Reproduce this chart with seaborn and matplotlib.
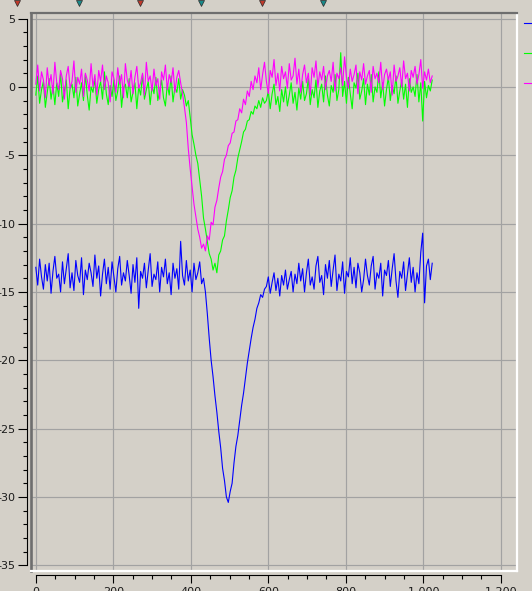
import numpy as np
import pandas as pd
import matplotlib
matplotlib.use("Agg")
import matplotlib.pyplot as plt
import seaborn as sns
from matplotlib.lines import Line2D
from matplotlib.ticker import MultipleLocator, FuncFormatter

# ---------------- data ----------------
last_sample = 1023

magenta_pre = [
    0.2, 1.6, -0.3, 1.1, 0.5, -0.8, 1.4, 0.1, 0.9, -0.5, 1.8, 0.3, -0.2, 1.2, 0.6, -0.9, 0.8, 1.5, -0.1, 0.4,
    1.9, -0.4, 0.7, 0.2, 1.3, -0.7, 1.0, 0.5, -0.3, 1.7, 0.0, 0.9, -0.6, 1.2, 0.4, 1.6, -0.2, 0.8, 0.3, -1.1,
    1.1, 0.6, -0.4, 1.4, 0.2, 0.9, -0.8, 1.7, 0.5, 0.0, 1.2, -0.5, 0.7, 1.5, -0.1, 0.3, 1.0, -0.6, 1.8, 0.4,
    0.8, -0.3, 1.3, 0.1, 0.6, -0.9, 1.1, 0.5, 1.6, -0.2, 0.9, 0.3, 1.4, -0.4, 0.7, 1.2,
]
magenta_event = [
    0.3, -0.5, -1.5, -2.6, -4.5, -6.0, -7.3, -8.6, -9.5, -10.4, -11.0, -11.8, -11.5, -12.0, -10.9, -11.2,
    -9.9, -10.1, -8.8, -8.3, -7.4, -6.6, -6.2, -5.3, -5.0, -4.3, -4.1, -3.4, -3.3, -2.5, -2.4, -1.6, -1.9,
    -0.9, -1.3, -0.3, -0.7, 0.4, -0.2, 0.8,
]
magenta_post = [
    0.3, 1.4, -0.2, 0.9, 1.8, 0.4, -0.5, 1.2, 0.7, 2.0, 0.1, 1.0, -0.3, 1.5, 0.6, 1.1, -0.1, 1.7, 0.5, 0.8,
    2.1, 0.2, 1.3, -0.4, 0.9, 1.6, 0.3, 1.0, -0.6, 1.4, 0.7, 1.9, 0.0, 1.1, 0.5, 1.5, -0.2, 0.8, 1.2, 0.4,
    1.8, -0.3, 1.0, 0.6, 1.4, 0.1, 2.2, 0.7, -0.1, 1.3, 0.4, 0.9, 1.6, -0.5, 1.1, 0.5, 1.7, 0.2, 0.8, 1.2,
    -0.4, 1.5, 0.6, 1.0, 0.3, 1.8, -0.2, 0.9, 1.3, 0.5, 1.1, -0.6, 1.6, 0.4, 0.8, 1.4, 0.0, 1.9, 0.6, 1.0,
    -0.3, 1.2, 0.7, 1.5, 0.2, 0.9, 2.0, -0.1, 1.1, 0.5, 1.3, 0.3, 0.8,
]

green_pre = [
    -0.6, 0.8, -1.2, -0.2, 0.4, -1.5, -0.4, 0.6, -0.9, 0.1, -1.3, 0.3, -0.7, 1.0, -1.1, -0.3, 0.5, -1.6, -0.1, 0.2,
    -0.8, 0.7, -1.4, -0.5, 0.3, -1.0, 0.9, -0.6, -1.7, 0.0, -0.4, 0.6, -1.2, -0.2, 0.4, -0.9, 1.1, -0.5, -1.3, 0.1,
    -0.7, 0.5, -1.0, -0.3, 0.8, -1.5, -0.1, 0.2, -0.8, 0.6, -1.1, -0.4, 0.3, -1.6, 0.0, -0.6, 0.9, -0.9, -0.2, 0.4,
    -1.3, 0.1, -0.5, 0.7, -1.0, -0.3, 0.5, -0.8, -1.4, 0.2, -0.6, 0.8, -1.1, 0.0, -0.4, 0.6, -0.9, -0.2,
]
green_event = [
    -0.6, -1.4, -1.0, -2.2, -3.5, -4.2, -5.0, -5.6, -6.8, -8.0, -9.6, -10.4, -11.3, -12.2, -12.6, -13.4,
    -12.9, -13.6, -12.3, -12.0, -11.2, -10.9, -9.8, -9.0, -8.1, -7.6, -6.6, -6.1, -5.2, -4.6, -4.0, -3.3,
    -3.1, -2.5, -2.4, -1.8, -2.0, -1.4, -1.6, -1.0, -1.5, -0.8, -1.2,
]
green_post = [
    -1.0, -0.3, -1.6, -0.5, 0.2, -1.3, -0.7, -1.8, -0.2, -1.1, 0.0, -1.4, -0.6, 0.3, -1.2, -0.4, -1.7, -0.1, -0.9, 0.4,
    -1.0, -0.5, 0.6, -1.3, -0.2, -0.8, 0.5, -1.5, -0.3, 0.2, -1.1, 0.8, -0.6, -1.4, 0.1, -0.4, 0.9, -1.0, -0.2, 2.5,
    -0.7, 0.4, -1.2, 0.7, -0.5, -1.6, 0.3, -0.1, 1.0, -0.9, -0.3, 0.6, -1.3, 0.2, -0.6, 0.9, -1.1, 0.0, -0.4, 1.1,
    -0.8, 0.3, -1.4, -0.2, 0.7, -1.0, 0.1, -0.5, 0.8, -1.2, -0.3, 0.5, -0.9, 0.2, -1.5, 0.6, -0.4, 0.0, -0.7, 0.9,
    -1.1, 0.3, -2.5, 0.4, -0.8, 0.1, -0.3, 0.5,
]

blue_pre = [
    -13.2, -14.5, -12.6, -13.9, -14.8, -13.0, -14.2, -12.9, -15.1, -13.5, -12.4, -14.0, -13.7, -15.0, -12.8, -14.4, -13.3, -12.2, -14.7, -13.6,
    -14.9, -12.7, -13.8, -14.3, -12.5, -15.2, -13.4, -14.1, -12.9, -13.6, -14.6, -12.3, -14.0, -13.1, -15.3, -13.7, -12.6, -14.4, -13.2, -14.8,
    -12.8, -13.9, -15.0, -13.3, -12.4, -14.5, -13.6, -14.2, -12.7, -13.8, -15.1, -13.0, -14.3, -12.5, -16.2, -13.5, -14.0, -12.9, -14.7, -13.4,
    -12.2, -14.6, -13.7, -14.1, -12.8, -15.0, -13.2, -13.9, -12.6, -14.4, -13.6, -15.2, -12.9, -14.0, -13.3, -14.8, -11.3, -13.8, -14.5, -12.7,
    -14.2, -13.4, -15.0, -12.9, -14.1, -13.6, -12.8, -14.4,
]
blue_event = [
    -14.0, -15.0, -16.6, -18.4, -20.0, -21.2, -22.6, -23.8, -25.2, -26.4, -27.9, -28.8, -30.0, -30.4, -29.6,
    -29.0, -27.5, -26.3, -25.5, -24.4, -23.3, -22.4, -21.3, -20.2, -19.3, -18.4, -17.6, -17.0, -16.2, -15.8,
    -15.2, -15.4, -14.8,
]
blue_post = [
    -14.6, -13.9, -15.1, -14.3, -13.6, -14.9, -14.0, -15.3, -13.8, -14.5, -13.4, -14.8, -14.1, -13.5, -15.0,
    -13.7, -14.4, -12.9, -14.2, -13.3, -15.0, -13.6, -12.6, -14.5, -13.9, -14.8, -13.1, -12.4, -14.3, -13.8, -15.2, -13.0, -14.0, -12.7, -14.6,
    -13.4, -12.3, -14.9, -13.7, -14.2, -12.8, -15.1, -13.5, -13.9, -12.5, -14.4, -13.2, -14.7, -12.9, -13.6, -15.0, -14.1, -12.6, -13.8, -14.5,
    -13.1, -12.4, -14.8, -13.6, -14.0, -12.9, -15.3, -13.4, -13.8, -12.7, -14.6, -13.3, -12.2, -14.2, -15.4, -13.5, -14.0, -12.8, -14.9, -13.7,
    -12.5, -14.3, -13.2, -15.0, -13.6, -14.4, -12.1, -10.7, -15.8, -13.1, -12.6, -14.1, -12.9,
]

magenta = magenta_pre + magenta_event + magenta_post
green = green_pre + green_event + green_post
blue = blue_pre + blue_event + blue_post
assert len(magenta) == len(green) == len(blue)

series_names = ["Trace 1", "Trace 2", "Trace 3"]
series_colors = ["#0000ff", "#00ff00", "#ff00ff"]
x_major_ticks = [0, 200, 400, 600, 800, 1000, 1200]
y_major_ticks = [5, 0, -5, -10, -15, -20, -25, -30, -35]

sample_x = np.linspace(0, last_sample, len(blue))
df = pd.concat(
    [pd.DataFrame({"x": sample_x, "value": vals, "series": name})
     for name, vals in zip(series_names, [blue, green, magenta])],
    ignore_index=True,
)

# ---------------- figure ----------------
plt.rcParams["axes.unicode_minus"] = False
plt.rcParams["font.family"] = ["DejaVu Sans"]
BG = "#d4d0c8"
W, H = 532, 591
fig = plt.figure(figsize=(W / 100, H / 100), dpi=100, facecolor=BG)

ax_left, ax_right, ax_top, ax_bottom = 31, 517, 13.2, 570.5
rect = [ax_left / W, 1 - ax_bottom / H, (ax_right - ax_left) / W, (ax_bottom - ax_top) / H]
ax = fig.add_axes(rect)
ax.set_facecolor(BG)

sns.lineplot(data=df, x="x", y="value", hue="series", hue_order=series_names,
             palette=dict(zip(series_names, series_colors)), estimator=None,
             sort=False, legend=False, linewidth=0.8, ax=ax)

xlim = (-12.4, 1241.8)
ylim = (-35.38, 5.39)
ax.set_xlim(*xlim)
ax.set_ylim(*ylim)
ax.set_xlabel("")
ax.set_ylabel("")
ax.set_xticks(x_major_ticks)
ax.set_yticks(y_major_ticks)
ax.tick_params(length=0, labelbottom=False, labelleft=False)
ax.grid(True, color="#a2a2a2", linewidth=0.85)
ax.set_axisbelow(True)
ax.spines["left"].set_color("#6e6e6e")
ax.spines["left"].set_linewidth(1.9)
ax.spines["top"].set_color("#6e6e6e")
ax.spines["top"].set_linewidth(1.6)
ax.spines["right"].set_color("white")
ax.spines["right"].set_linewidth(1.6)
ax.spines["bottom"].set_color("white")
ax.spines["bottom"].set_linewidth(1.6)

# y ruler (separate, left of the sunken panel)
yr = fig.add_axes([27.3 / W, rect[1], 1e-4, rect[3]])
yr.set_ylim(*ylim)
yr.patch.set_visible(False)
yr.set_xticks([])
for s in ["top", "right", "bottom"]:
    yr.spines[s].set_visible(False)
yr.spines["left"].set_color("black")
yr.spines["left"].set_linewidth(0.8)
yr.spines["left"].set_bounds(-35, 5)
yr.yaxis.set_major_locator(MultipleLocator(5))
yr.yaxis.set_minor_locator(MultipleLocator(1))
yr.tick_params(axis="y", which="major", length=6.5, width=0.8, color="black",
               pad=2, labelsize=8, labelcolor="#1a1a1a")
yr.tick_params(axis="y", which="minor", length=3.2, width=0.8, color="black")

# x ruler (separate, below the panel)
xr = fig.add_axes([rect[0], 1 - 575.4 / H, rect[2], 1e-4])
xr.set_xlim(*xlim)
xr.patch.set_visible(False)
xr.set_yticks([])
for s in ["top", "right", "left"]:
    xr.spines[s].set_visible(False)
xr.spines["bottom"].set_color("black")
xr.spines["bottom"].set_linewidth(0.8)
xr.spines["bottom"].set_bounds(0, 1200)
xr.xaxis.set_major_locator(MultipleLocator(200))
xr.xaxis.set_minor_locator(MultipleLocator(50))
xr.xaxis.set_major_formatter(FuncFormatter(lambda v, p: f"{v:,.0f}".replace(",", " ")))
xr.tick_params(axis="x", which="major", length=5.6, width=0.8, color="black",
               pad=2.5, labelsize=8, labelcolor="#1a1a1a")
xr.tick_params(axis="x", which="minor", length=3.0, width=0.8, color="black")

# right-hand legend stubs
for ypx, col in zip([23.3, 53.3, 83.3], series_colors):
    fig.add_artist(Line2D([524 / W, 1.0], [1 - ypx / H, 1 - ypx / H],
                          transform=fig.transFigure, color=col, linewidth=0.8))

# cursor markers along the top edge
for xpx, col in zip([17, 79, 140, 201, 262, 323],
                    ["#c0392b", "#1a8a8a", "#c0392b", "#1a8a8a", "#c0392b", "#1a8a8a"]):
    fig.add_artist(Line2D([xpx / W], [1 - 3 / H], transform=fig.transFigure,
                          marker="v", markersize=4, markerfacecolor=col,
                          markeredgecolor="#2a2a2a", markeredgewidth=0.5,
                          linestyle="none"))

fig.savefig("out.png", dpi=100, facecolor=BG)
